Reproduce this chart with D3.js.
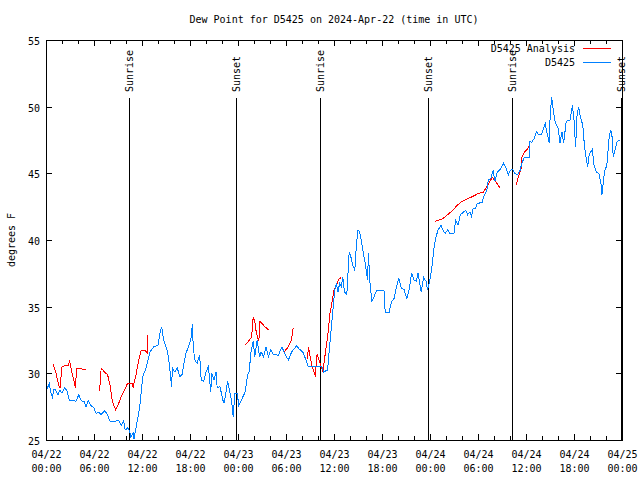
<!DOCTYPE html>
<html>
<head>
<meta charset="utf-8">
<script src="https://cdn.jsdelivr.net/npm/d3@7"></script>
<style>
  html, body { margin: 0; padding: 0; background: #fff; }
  svg { display: block; }
  text { font-family: "DejaVu Sans Mono", monospace; font-size: 10px; fill: #000; }
</style>
</head>
<body>
<svg id="chart" width="640" height="480"></svg>
<script>
// ---------- data (hours after 2024-04-22 00:00 UTC, degrees F) ----------
const blueHours = [0.1,0.2,0.4,0.6,0.8,1.0,1.2,1.5,1.75,2.0,2.3,2.6,2.9,3.3,3.75,4.1,4.4,4.8,5.0,5.3,5.6,6.0,6.25,6.6,6.9,7.3,7.6,8.0,8.5,9.1,9.4,9.7,9.9,10.2,10.4,10.6,10.9,11.0,11.25,11.7,12.1,12.5,13.0,13.5,14.0,14.25,14.46,14.67,15.0,15.2,15.4,15.6,15.7,15.8,16.1,16.4,16.75,17.0,17.25,17.5,17.8,18.1,18.3,18.4,18.6,18.9,19.2,19.4,19.7,20.0,20.3,20.6,20.7,21.0,21.25,21.4,21.75,22.1,22.25,22.5,22.7,23.0,23.2,23.4,23.6,23.9,24.1,24.5,24.9,25.2,25.4,25.6,25.9,26.1,26.4,26.7,26.9,27.2,27.5,27.8,28.1,28.4,28.8,29.0,29.5,29.8,30.3,30.7,31.3,31.7,32.1,32.5,32.8,34.5,34.7,35.2,35.3,35.6,35.9,36.1,36.3,36.5,36.7,36.9,37.1,37.3,37.6,37.9,38.1,38.4,38.6,38.8,39.0,39.2,39.4,39.6,39.9,40.2,40.3,40.5,40.75,41.0,41.3,42.25,42.4,42.9,43.2,43.5,43.8,44.1,44.4,44.75,45.1,45.4,45.7,46.0,46.3,46.5,46.7,46.9,47.2,47.5,47.7,47.9,48.1,48.3,48.5,48.7,49.0,49.4,49.6,49.9,50.2,50.5,51.0,51.2,51.5,51.8,52.2,52.5,52.7,53.0,53.2,53.4,53.7,53.9,54.5,54.75,55.1,55.3,55.6,55.9,56.1,56.4,56.8,57.2,57.5,57.8,58.0,58.3,58.6,58.95,59.25,59.5,59.8,60.4,60.5,60.7,61.0,61.3,61.6,61.95,62.2,62.4,62.6,62.9,63.0,63.2,63.4,63.6,63.8,64.0,64.25,64.5,64.7,65.0,65.2,65.5,65.8,66.0,66.2,66.4,66.6,66.8,67.1,67.3,67.5,67.7,67.9,68.1,68.3,68.5,68.8,69.1,69.4,69.5,69.8,70.1,70.4,70.6,70.8,70.9,71.1,71.4,71.7];
const blueValues = [29.1,28.9,29.25,28.6,28.25,28.8,28.75,28.4,28.75,28.5,28.9,28.75,28.0,28.0,27.9,28.4,27.95,27.85,27.5,27.95,27.6,27.4,27.0,27.1,26.9,27.2,27.0,26.4,26.4,26.45,26.1,26.45,25.75,25.9,25.75,25.25,25.5,25.1,25.9,27.4,29.75,30.4,31.6,32.0,32.1,33.0,33.5,32.6,32.0,31.6,30.75,29.6,29.0,30.4,30.1,30.4,29.75,29.9,30.75,31.5,32.0,32.5,33.7,32.0,31.0,30.75,31.4,29.5,29.4,30.1,30.5,28.6,30.0,29.5,30.1,28.9,29.0,28.0,27.75,28.6,29.4,28.5,27.9,26.75,28.5,28.5,27.6,28.1,28.6,29.9,30.1,31.5,32.4,31.25,32.5,31.25,31.6,31.25,32.0,31.25,31.75,31.4,31.4,31.3,32.0,31.5,31.0,31.6,32.05,31.8,31.6,31.0,30.5,30.5,30.1,30.25,31.0,33.0,35.0,36.25,36.75,36.1,36.75,36.5,37.25,36.1,35.9,39.1,38.75,38.0,37.75,39.6,40.75,40.6,40.0,39.25,38.25,37.0,39.0,36.75,35.4,35.75,36.2,36.2,34.6,34.6,35.4,35.6,36.5,37.1,36.4,36.3,35.6,36.3,37.5,37.0,36.9,37.5,36.8,36.1,37.2,36.9,36.25,36.75,37.4,38.25,39.4,40.1,40.75,41.1,40.75,40.5,40.75,40.5,40.5,41.5,41.1,41.9,42.1,42.2,41.9,42.1,41.75,42.4,42.4,42.75,42.8,43.3,43.75,44.5,44.6,45.25,44.4,45.1,45.3,45.75,45.4,44.9,45.2,45.3,45.0,44.9,45.2,45.8,46.2,46.2,47.4,47.3,47.6,48.1,47.9,47.9,48.4,48.75,48.1,47.3,49.0,50.75,49.75,49.0,48.6,48.4,47.3,48.1,47.25,48.75,49.0,49.0,50.1,49.0,47.0,49.6,49.9,49.25,48.6,47.1,46.25,45.5,46.4,46.6,46.8,45.6,45.1,45.0,44.1,43.4,45.1,45.6,47.75,48.25,47.6,46.2,46.7,47.4,47.5];

// analysis series; null marks a gap between segments
const redHours = [0.9,1.25,1.6,1.75,2.0,2.5,2.8,2.95,3.1,3.3,3.7,3.8,4.4,5.0,null,
  6.7,6.9,7.3,7.7,8.0,8.3,8.7,9.0,9.4,9.8,10.2,10.75,10.9,11.0,11.25,11.6,11.9,12.4,12.7,12.7,null,
  24.8,25.3,25.7,25.9,26.1,26.3,26.6,26.75,27.2,27.8,null,
  29.75,30.25,30.7,30.9,null,
  32.7,32.8,33.1,33.25,33.5,33.7,33.8,33.9,34.2,34.6,34.8,35.2,35.5,35.8,36.0,36.3,36.6,36.9,null,
  48.6,49.1,49.6,50.2,50.8,51.4,52.0,52.7,53.3,53.9,54.7,55.2,55.8,56.2,56.75,null,
  58.8,58.95,59.1,59.4,59.5,59.8,60.1,60.4];
const redValues = [30.7,30.0,29.1,28.9,30.5,30.6,30.6,30.9,30.5,29.9,28.9,30.4,30.35,30.25,null,
  28.7,30.4,30.1,29.9,29.1,27.9,27.25,27.6,28.25,28.75,29.25,29.25,28.9,29.25,29.9,31.0,31.75,31.7,31.5,32.9,null,
  32.1,32.4,32.7,34.2,33.9,33.0,32.4,33.9,33.6,33.25,null,
  31.6,31.95,32.55,33.4,null,
  31.1,32.0,31.0,30.5,30.1,29.75,31.2,31.4,30.9,30.1,31.0,32.75,34.5,35.5,36.25,36.6,37.05,37.2,null,
  41.4,41.5,41.6,41.9,42.2,42.6,42.9,43.1,43.25,43.45,43.6,44.1,44.7,44.4,43.9,null,
  44.1,44.6,44.8,45.4,46.2,46.6,46.75,47.1];

const sunHours = [10.4, 23.75, 34.25, 47.75, 58.25, 71.85];
const sunLabels = ["Sunrise", "Sunset", "Sunrise", "Sunset", "Sunrise", "Sunset"];

const xTickHours = [0,6,12,18,24,30,36,42,48,54,60,66,72];
const xTickDates = ["04/22","04/22","04/22","04/22","04/23","04/23","04/23","04/23","04/24","04/24","04/24","04/24","04/25"];
const xTickTimes = ["00:00","06:00","12:00","18:00","00:00","06:00","12:00","18:00","00:00","06:00","12:00","18:00","00:00"];
const yTicks = [25,30,35,40,45,50,55];

const titleText = "Dew Point for D5425 on 2024-Apr-22 (time in UTC)";
const yLabel = "degrees F";
const seriesNames = ["D5425 Analysis", "D5425"];
const seriesColors = ["#ff0000", "#0080ff"];

// ---------- drawing ----------
const startMs = Date.UTC(2024, 3, 22);
const toDate = h => new Date(startMs + h * 3600e3);

const L = 46, R = 622, T = 40, B = 440;
const svg = d3.select("#chart");
const x = d3.scaleUtc().domain([toDate(0), toDate(72)]).range([L, R]);
const y = d3.scaleLinear().domain([25, 55]).range([B, T]);

// title
svg.append("text").attr("x", (L + R) / 2).attr("y", 23)
  .attr("text-anchor", "middle").text(titleText);

// y label
svg.append("text").attr("transform", `translate(14.5,${(T + B) / 2}) rotate(-90)`)
  .attr("text-anchor", "middle").text(yLabel);

// minor x ticks (every 2h), bottom and top
const minorHours = d3.range(0, 73, 2).filter(h => h % 6 !== 0);
const minorAxisB = d3.axisBottom(x).tickValues(minorHours.map(toDate)).tickSizeInner(-4).tickSizeOuter(0).tickFormat("");
const minorAxisT = d3.axisTop(x).tickValues(minorHours.map(toDate)).tickSizeInner(-4).tickSizeOuter(0).tickFormat("");
svg.append("g").attr("transform", `translate(0,${B})`).call(minorAxisB).call(g => g.select(".domain").remove());
svg.append("g").attr("transform", `translate(0,${T})`).call(minorAxisT).call(g => g.select(".domain").remove());

// major x ticks
const xb = svg.append("g").attr("transform", `translate(0,${B})`)
  .call(d3.axisBottom(x).tickValues(xTickHours.map(toDate)).tickSizeInner(-6).tickSizeOuter(0).tickFormat(""));
xb.select(".domain").remove();
xb.selectAll(".tick").each(function(d, i) {
  const g = d3.select(this);
  g.select("text").remove();
  g.append("text").attr("y", 17.5).attr("text-anchor", "middle").text(xTickDates[i]);
  g.append("text").attr("y", 31.5).attr("text-anchor", "middle").text(xTickTimes[i]);
});
svg.append("g").attr("transform", `translate(0,${T})`)
  .call(d3.axisTop(x).tickValues(xTickHours.map(toDate)).tickSizeInner(-6).tickSizeOuter(0).tickFormat(""))
  .call(g => g.select(".domain").remove());

// y ticks
const yl = svg.append("g").attr("transform", `translate(${L},0)`)
  .call(d3.axisLeft(y).tickValues(yTicks).tickSizeInner(-6).tickSizeOuter(0).tickPadding(6).tickFormat(d3.format("d")));
yl.select(".domain").remove();
yl.selectAll("text").attr("dy", "0.45em");
svg.append("g").attr("transform", `translate(${R},0)`)
  .call(d3.axisRight(y).tickValues(yTicks).tickSizeInner(-6).tickSizeOuter(0).tickFormat(""))
  .call(g => g.select(".domain").remove());

svg.selectAll(".tick line").attr("stroke", "#000").attr("shape-rendering", "crispEdges");
svg.selectAll("g").attr("font-family", null).attr("font-size", null);

// sunrise / sunset markers
sunHours.forEach((h, i) => {
  const sx = Math.round(x(toDate(h))) + 0.5;
  svg.append("line").attr("x1", sx).attr("x2", sx).attr("y1", 98).attr("y2", B)
    .attr("stroke", "#000").attr("stroke-width", 1).attr("shape-rendering", "crispEdges");
  svg.append("text").attr("transform", `translate(${sx + 3.5},92) rotate(-90)`)
    .attr("text-anchor", "start").text(sunLabels[i]);
});

// series
const redData = redHours.map((h, i) => h === null ? null : [h, redValues[i]]);
const blueData = blueHours.map((h, i) => [h, blueValues[i]]);
const line = d3.line().defined(d => d !== null)
  .x(d => x(toDate(d[0]))).y(d => y(d[1]));

svg.append("path").datum(redData).attr("d", line)
  .attr("fill", "none").attr("stroke", seriesColors[0]).attr("stroke-width", 1)
  .attr("shape-rendering", "crispEdges");
svg.append("path").datum(blueData).attr("d", line)
  .attr("fill", "none").attr("stroke", seriesColors[1]).attr("stroke-width", 1)
  .attr("shape-rendering", "crispEdges");

// frame
svg.append("rect").attr("x", L + 0.5).attr("y", T + 0.5).attr("width", R - L).attr("height", B - T)
  .attr("fill", "none").attr("stroke", "#000").attr("stroke-width", 1).attr("shape-rendering", "crispEdges");

// legend
seriesNames.forEach((name, i) => {
  const ly = 48 + i * 14;
  svg.append("text").attr("x", 575).attr("y", ly + 4).attr("text-anchor", "end").text(name);
  svg.append("line").attr("x1", 583).attr("x2", 611).attr("y1", ly + 0.5).attr("y2", ly + 0.5)
    .attr("stroke", seriesColors[i]).attr("stroke-width", 1).attr("shape-rendering", "crispEdges");
});
</script>
</body>
</html>
